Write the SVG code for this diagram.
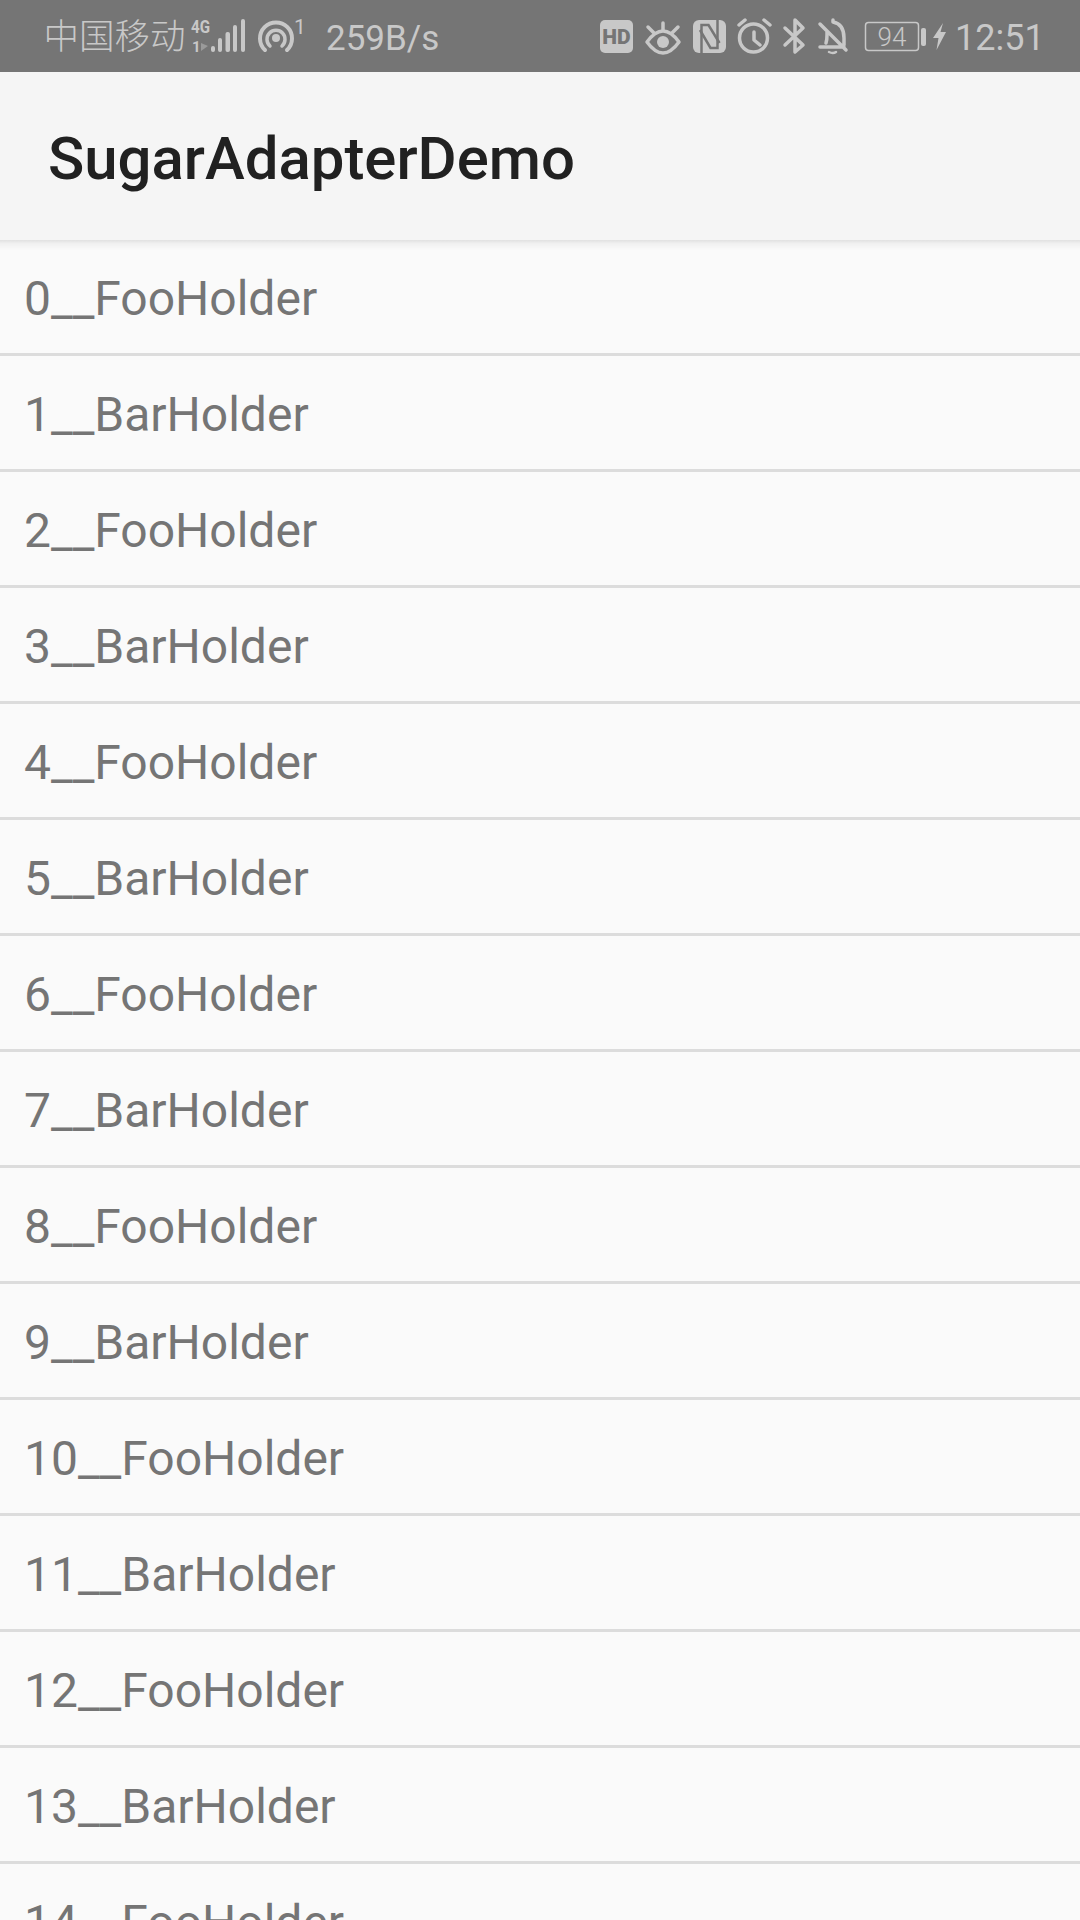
<svg xmlns="http://www.w3.org/2000/svg" width="1080" height="1920" viewBox="0 0 1080 1920">
<defs>
<linearGradient id="sh" x1="0" y1="0" x2="0" y2="1"><stop offset="0" stop-color="#000" stop-opacity=".1"/><stop offset=".35" stop-color="#000" stop-opacity=".04"/><stop offset="1" stop-color="#000" stop-opacity="0"/></linearGradient>
</defs>
<style>
.row{font-family:Roboto,"Liberation Sans",sans-serif;font-size:48px;fill:#757575}
.div{fill:#dcdcdc}
.st{font-family:Roboto,"Liberation Sans",sans-serif;fill:#c8c8c8}
.ic{fill:none;stroke:#c8c8c8;stroke-width:3.5;stroke-linecap:round;stroke-linejoin:round}
.fl{fill:#c8c8c8}
.cut{fill:none;stroke:#757575;stroke-width:2.5}
</style>
<rect id="background" width="1080" height="1920" fill="#fafafa"/>
<g id="status-bar">
<rect width="1080" height="72" fill="#757575"/>
<text x="43.500" y="49" font-size="35.500" font-weight="300" fill="#c8c8c8" font-family="'Noto Sans CJK SC',sans-serif">中国移动</text>
<text class="st" x="191" y="33" font-size="18" font-weight="700" textLength="19" lengthAdjust="spacingAndGlyphs">4G</text>
<text class="st" x="192" y="52" font-size="15" font-weight="700">1</text>
<path d="M201 43v8l7-5z" fill="#9a9a9a"/>
<rect class="fl" x="211" y="46" width="4" height="6" rx="2"/><rect class="fl" x="218" y="38" width="4" height="14" rx="2"/><rect class="fl" x="225.500" y="32" width="4.500" height="20" rx="2"/><rect class="fl" x="233" y="25" width="4" height="27" rx="2"/><rect class="fl" x="241" y="19" width="4" height="33" rx="2"/>
<path class="ic" style="stroke-width:4" d="M265 50a16 16 0 1 1 22 0"/>
<path class="ic" d="M270 46a9 9 0 1 1 12 0"/>
<circle class="fl" cx="276" cy="38" r="4"/>
<text class="st" x="294" y="34" font-size="21">1</text>
<text class="st" x="326" y="50" font-size="35">259B/s</text>
<g id="hd-icon"><rect class="fl" x="600" y="20" width="33" height="33" rx="5"/>
<text x="616.500" y="44" text-anchor="middle" font-family="Roboto,sans-serif" font-weight="900" font-size="21" fill="#757575">HD</text></g>
<g id="eye-icon"><path class="ic" d="M647 42Q663 20 679 42Q663 64 647 42z"/><path class="ic" d="M648 27l6 6M663 23v7M678 27l-6 6"/><circle class="fl" cx="663" cy="42" r="6"/></g>
<g id="nfc-icon"><rect class="fl" x="693" y="20" width="33" height="33" rx="6"/><path class="cut" d="M701.500 53V25h7l11 18"/><path class="cut" d="M717.500 20V48h-7L700 30"/></g>
<g id="alarm-icon"><circle class="ic" cx="753.500" cy="38" r="14"/><path class="ic" d="M754 32v8l6 5M739 25l6-5M770 25l-6-5"/></g>
<path id="bluetooth-icon" class="ic" d="M785 28L803 45L795 52V20L803 28L785 45"/>
<g id="bell-icon"><path class="ic" d="M820 47h24M826 43q1-3 1-8v-3M833 22q11 2 11 16v7M820 24l26 26M833 22v-2"/><path class="ic" style="stroke-width:2.500" d="M829 52q4 2 7 0"/></g>
<rect x="865.500" y="22.500" width="53" height="28" rx="3" fill="none" stroke="#c8c8c8" stroke-width="1.500"/>
<text class="st" x="892" y="46" font-size="26" text-anchor="middle" font-weight="300">94</text>
<rect class="fl" x="921" y="28" width="5" height="18" rx="2"/>
<path class="fl" d="M943 23L933 38H938.500L936.500 50L946 32H940.500z"/>
<text class="st" x="955" y="50" font-size="36">12:51</text>
</g>
<g id="app-bar">
<rect y="240" width="1080" height="10" fill="url(#sh)"/>
<rect y="72" width="1080" height="168" fill="#f5f5f5"/>
<text x="48" y="178.500" font-family="Roboto,sans-serif" font-weight="500" font-size="59.900" fill="#212121">SugarAdapterDemo</text>
</g>
<g id="list">
<rect class="div" y="353" width="1080" height="3"/><text class="row" x="24" y="315">0__FooHolder</text>
<rect class="div" y="469" width="1080" height="3"/><text class="row" x="24" y="431">1__BarHolder</text>
<rect class="div" y="585" width="1080" height="3"/><text class="row" x="24" y="547">2__FooHolder</text>
<rect class="div" y="701" width="1080" height="3"/><text class="row" x="24" y="663">3__BarHolder</text>
<rect class="div" y="817" width="1080" height="3"/><text class="row" x="24" y="779">4__FooHolder</text>
<rect class="div" y="933" width="1080" height="3"/><text class="row" x="24" y="895">5__BarHolder</text>
<rect class="div" y="1049" width="1080" height="3"/><text class="row" x="24" y="1011">6__FooHolder</text>
<rect class="div" y="1165" width="1080" height="3"/><text class="row" x="24" y="1127">7__BarHolder</text>
<rect class="div" y="1281" width="1080" height="3"/><text class="row" x="24" y="1243">8__FooHolder</text>
<rect class="div" y="1397" width="1080" height="3"/><text class="row" x="24" y="1359">9__BarHolder</text>
<rect class="div" y="1513" width="1080" height="3"/><text class="row" x="24" y="1475">10__FooHolder</text>
<rect class="div" y="1629" width="1080" height="3"/><text class="row" x="24" y="1591">11__BarHolder</text>
<rect class="div" y="1745" width="1080" height="3"/><text class="row" x="24" y="1707">12__FooHolder</text>
<rect class="div" y="1861" width="1080" height="3"/><text class="row" x="24" y="1823">13__BarHolder</text>
<text class="row" x="24" y="1939">14__FooHolder</text>
</g>
</svg>
